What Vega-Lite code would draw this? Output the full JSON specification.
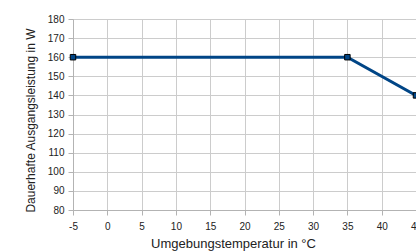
{
  "$schema": "https://vega.github.io/schema/vega-lite/v6.json",
  "autosize": "none",
  "width": 343,
  "height": 191,
  "padding": {"left": 73, "top": 19, "right": 0, "bottom": 42},
  "background": "white",
  "config": {
    "view": {"stroke": null},
    "font": "Liberation Sans",
    "axis": {
      "gridColor": "#cccccc",
      "gridWidth": 1,
      "domainColor": "#b3b3b3",
      "tickColor": "#b3b3b3",
      "tickSize": 5,
      "labelFont": "Liberation Sans",
      "labelFontSize": 10,
      "labelColor": "#222222",
      "labelFlush": false,
      "titleFont": "Liberation Sans",
      "titleFontSize": 12,
      "titleFontWeight": "normal",
      "titleColor": "#222222"
    }
  },
  "data": {"values": [
    {"temp": -5, "power": 160},
    {"temp": 35, "power": 160},
    {"temp": 45, "power": 140}
  ]},
  "encoding": {
    "x": {"field": "temp", "type": "quantitative",
      "scale": {"domain": [-5, 45], "nice": false, "zero": false},
      "axis": {"values": [-5,0,5,10,15,20,25,30,35,40,45], "labelExpr": "replace(datum.label, '−', '-')", "labelFlush": false, "title": "Umgebungstemperatur in °C", "labelPadding": 6, "titleFontSize": 13, "titleX": 160, "titleY": 37, "titleBaseline": "alphabetic", "titleAlign": "center", "titleAnchor": null}},
    "y": {"field": "power", "type": "quantitative",
      "scale": {"domain": [80, 180], "nice": false, "zero": false},
      "axis": {"values": [80,90,100,110,120,130,140,150,160,170,180], "labelFlush": false, "title": "Dauerhafte Ausgangsleistung in W", "labelPadding": 4, "titleX": -43, "titleY": 101, "titleBaseline": "middle", "titleAlign": "center"}}
  },
  "layer": [
    {"mark": {"type": "line", "color": "#004586", "strokeWidth": 3, "clip": false}},
    {"mark": {"type": "point", "shape": "square", "size": 30, "filled": true, "fill": "#004586", "stroke": "#000000", "strokeWidth": 1, "opacity": 1}}
  ]
}
